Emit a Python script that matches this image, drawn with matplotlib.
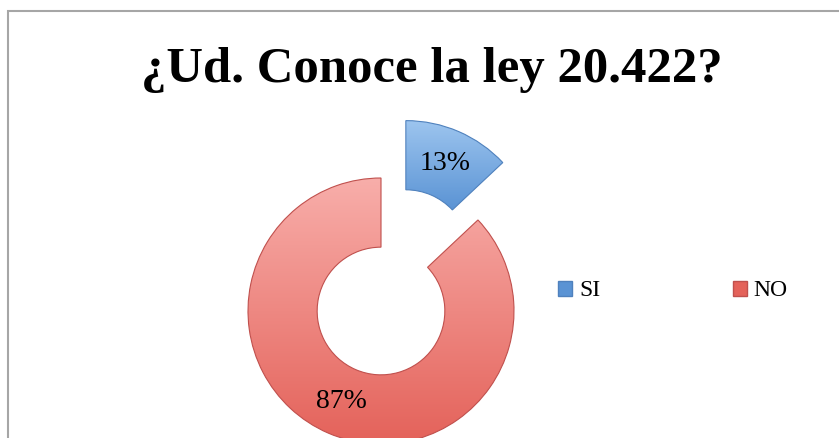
import matplotlib.pyplot as plt
import numpy as np
from matplotlib.colors import LinearSegmentedColormap
from matplotlib.patches import Patch, Rectangle

labels = ["SI", "NO"]
values = [13, 87]
title = "¿Ud. Conoce la ley 20.422?"

# top / bottom shades of the gradient fill, plus edge colour
fills = {"SI": ("#9dc5ef", "#5a93d4", "#4f81bd"),
         "NO": ("#f8aeaa", "#e4625a", "#c0504d")}

W, H = 839, 438
px = 133.0          # pixels per data unit (outer radius)
cx, cy = 381, 311   # donut centre in pixels, measured from the top

fig = plt.figure(figsize=(W / 100, H / 100), dpi=100)
ax = fig.add_axes([0, 0, 1, 1])

wedges, _, pcts = ax.pie(values, startangle=90, counterclock=False,
                         explode=[0.47, 0], radius=1,
                         autopct='%1.0f%%', pctdistance=0.74,
                         wedgeprops=dict(width=0.52, linewidth=0.8),
                         textprops=dict(family='Liberation Serif', fontsize=20, color='black'))

# gradient fill clipped to each wedge
for w, lab in zip(wedges, labels):
    top, bot, edge = fills[lab]
    w.set_facecolor('none')
    w.set_edgecolor(edge)
    w.set_zorder(3)
    bb = w.get_path().get_extents()
    cmap = LinearSegmentedColormap.from_list(lab, [bot, top])
    grad = np.linspace(0, 1, 256).reshape(-1, 1)
    im = ax.imshow(grad, cmap=cmap, origin='lower', aspect='auto',
                   extent=[bb.x0, bb.x1, bb.y0, bb.y1], zorder=2)
    im.set_clip_path(w)

ax.set_xlim(-cx / px, (W - cx) / px)
ax.set_ylim(-(H - cy) / px, cy / px)
ax.set_aspect('equal')
ax.axis('off')

for t in pcts:
    t.set_zorder(5)

fig.text(432 / W, 1 - 70 / H, title, ha='center', va='center',
         fontsize=36.5, fontweight='bold', family='Liberation Serif')

handles = [Patch(facecolor=fills[l][1], edgecolor=fills[l][2], label=l) for l in labels]
fig.legend(handles=handles, loc='center left', bbox_to_anchor=(546 / W, 1 - 291 / H),
           ncol=2, frameon=False, borderpad=0, handlelength=0.6, handleheight=0.6,
           handletextpad=0.3, columnspacing=5.6,
           prop=dict(family='Liberation Serif', size=17))

fig.patches.append(Rectangle((8 / W, -0.1), 1.2, (H - 11) / H + 0.1,
                             transform=fig.transFigure, fill=False,
                             edgecolor='#a6a6a6', linewidth=1.5))

fig.savefig('out.png', dpi=100)
